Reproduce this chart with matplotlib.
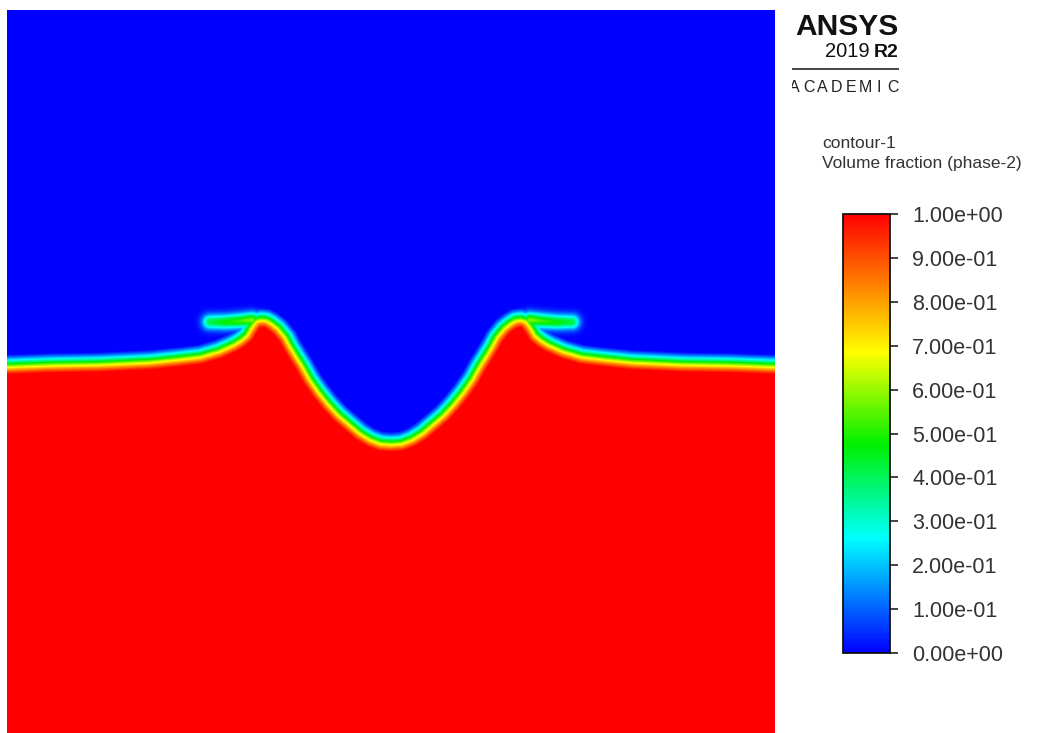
import numpy as np
import matplotlib
matplotlib.use("Agg")
import matplotlib.pyplot as plt
from matplotlib.colors import LinearSegmentedColormap

# ---------------- data (normalised domain coordinates) ----------------
# 0.5 volume-fraction interface, left half (mirrored about x = 0.5)
iface_x = [0.000, 0.056, 0.121, 0.186, 0.225, 0.251, 0.275, 0.293, 0.303,
           0.310, 0.314, 0.318, 0.323, 0.331, 0.339, 0.346, 0.355, 0.365,
           0.372, 0.380, 0.387, 0.397, 0.409, 0.421, 0.434, 0.448, 0.461,
           0.474, 0.487, 0.500]
iface_y = [0.480, 0.482, 0.483, 0.486, 0.490, 0.493, 0.500, 0.508, 0.514,
           0.520, 0.527, 0.533, 0.539, 0.541, 0.540, 0.536, 0.529, 0.517,
           0.504, 0.491, 0.480, 0.462, 0.445, 0.430, 0.416, 0.404, 0.393,
           0.385, 0.380, 0.379]
# thin liquid filament (overhanging tongue) on the left crest
tongue_x = [0.264, 0.284, 0.303, 0.319]
tongue_y = [0.5352, 0.5352, 0.5365, 0.5378]
tongue_peak = [0.42, 0.48, 0.52, 0.58]

cbar_ticks = [0.0, 0.1, 0.2, 0.3, 0.4, 0.5, 0.6, 0.7, 0.8, 0.9, 1.0]
title_lines = ["contour-1", "Volume fraction (phase-2)"]

# ---------------- build field ----------------
dom_w, dom_h = 1.0, 723 / 768
nx, ny = 768, 723
xs = (np.arange(nx) + 0.5) / nx * dom_w
ys = (np.arange(ny) + 0.5) / ny * dom_h
X, Y = np.meshgrid(xs, ys)

fx = np.array(iface_x + [1 - v for v in reversed(iface_x[:-1])])
fy = np.array(iface_y + list(reversed(iface_y[:-1])))


def seg_dist(x0, y0, x1, y1):
    dx, dy = x1 - x0, y1 - y0
    L2 = dx * dx + dy * dy
    t = np.clip(((X - x0) * dx + (Y - y0) * dy) / L2, 0, 1)
    return np.hypot(X - (x0 + t * dx), Y - (y0 + t * dy)), t


d = np.full(X.shape, np.inf)
for i in range(len(fx) - 1):
    di, _ = seg_dist(fx[i], fy[i], fx[i + 1], fy[i + 1])
    d = np.minimum(d, di)
sign = np.where(Y < np.interp(X, fx, fy), 1.0, -1.0)
ramp = 20.0 / 768                       # smeared VOF band thickness
s = np.clip(sign * d / ramp + 0.5, 0, 1)
field = s * s * (3 - 2 * s) * 0.35 + s * 0.65   # mostly linear, soft ends

sig = 7.5 / 768
for txs in (tongue_x, [1 - v for v in tongue_x]):
    for i in range(len(txs) - 1):
        di, t = seg_dist(txs[i], tongue_y[i], txs[i + 1], tongue_y[i + 1])
        pk = tongue_peak[i] + t * (tongue_peak[i + 1] - tongue_peak[i])
        field = np.maximum(field, pk * np.exp(-(di / sig) ** 2))

# ---------------- colormap (Fluent-like rainbow) ----------------
cmap = LinearSegmentedColormap.from_list(
    "fluent",
    [(0.0, (0, 0, 1)), (0.26, (0, 1, 1)), (0.475, (0, 0.94, 0)),
     (0.685, (1, 1, 0)), (1.0, (1, 0, 0))])

# ---------------- figure ----------------
W, H = 1047, 733
fig = plt.figure(figsize=(W / 100, H / 100), dpi=100)
fig.patch.set_facecolor("white")

ax = fig.add_axes([7 / W, 0, 768 / W, 723 / H])
im = ax.imshow(field, origin="lower", extent=[0, dom_w, 0, dom_h], cmap=cmap,
               vmin=0, vmax=1, interpolation="bilinear", aspect="auto")
ax.set_axis_off()

fam = ["Liberation Sans", "DejaVu Sans"]

cax = fig.add_axes([843 / W, (H - 653) / H, 47 / W, 439 / H])
cb = fig.colorbar(im, cax=cax, ticks=cbar_ticks, format="%.2e")
cb.outline.set_linewidth(1.3)
cb.outline.set_edgecolor("#111111")
cax.tick_params(length=6, width=1.1, pad=10, labelsize=15.5,
                labelcolor="#333333", color="#111111")
for lab in cax.get_yticklabels():
    lab.set_family(fam)

fig.text(822 / W, 1 - 148 / H, title_lines[0], fontsize=12.5, color="#333333",
         family=fam, va="baseline")
fig.text(822 / W, 1 - 168 / H, title_lines[1], fontsize=12.5, color="#333333",
         family=fam, va="baseline")

# ---- logo ----
lax = fig.add_axes([792 / W, 1 - 100 / H, 108 / W, 100 / H])
lax.set_xlim(0, 108)
lax.set_ylim(100, 0)
lax.set_axis_off()
lax.text(106, 35, "ANSYS", fontsize=21.5, fontweight="bold", family=fam,
         ha="right", va="baseline", color="#111111", clip_on=True)
lax.text(106, 57, "R2", fontsize=14, fontweight="bold", family=fam,
         ha="right", va="baseline", color="#111111", clip_on=True)
lax.text(78, 57, "2019", fontsize=14.5, family=fam,
         ha="right", va="baseline", color="#111111", clip_on=True)
lax.plot([0, 106], [69, 69], color="#444444", lw=1.4)
for i, ch in enumerate("ACADEMIC"):
    lax.text(2.5 + 14.1 * i, 92, ch, fontsize=11.5, family=fam,
             ha="center", va="baseline", color="#222222", clip_on=True)

fig.savefig("out.png", dpi=100, facecolor="white")
